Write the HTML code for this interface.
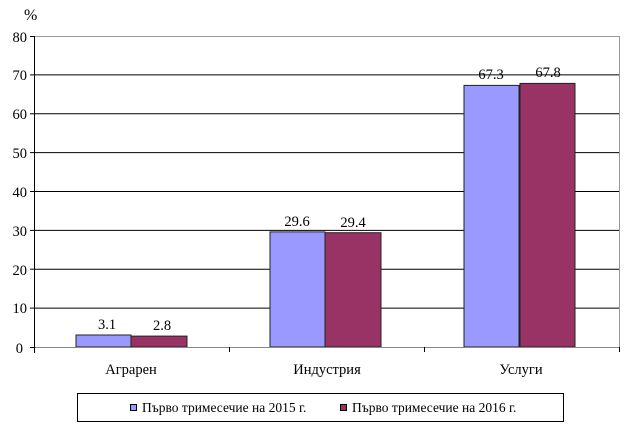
<!DOCTYPE html>
<html><head><meta charset="utf-8"><style>
html,body{margin:0;padding:0;background:#fff;}
svg text{font-family:"Liberation Serif",serif;fill:#000;}
</style></head><body>
<svg width="630" height="429" xmlns="http://www.w3.org/2000/svg">
<rect width="630" height="429" fill="#fff"/>
<g stroke="#000" stroke-width="1">
<line x1="34" y1="74.9" x2="619" y2="74.9"/>
<line x1="34" y1="113.8" x2="619" y2="113.8"/>
<line x1="34" y1="152.6" x2="619" y2="152.6"/>
<line x1="34" y1="191.5" x2="619" y2="191.5"/>
<line x1="34" y1="230.4" x2="619" y2="230.4"/>
<line x1="34" y1="269.2" x2="619" y2="269.2"/>
<line x1="34" y1="308.1" x2="619" y2="308.1"/>
</g>
<line x1="34" y1="36.5" x2="619" y2="36.5" stroke="#999"/>
<line x1="619.5" y1="36" x2="619.5" y2="347" stroke="#999"/>
<g stroke="#222" stroke-width="1">
<rect x="76" y="335" width="55" height="12" fill="#9999ff"/>
<rect x="131" y="336.1" width="56" height="10.9" fill="#993366"/>
<rect x="270" y="231.9" width="55" height="115.1" fill="#9999ff"/>
<rect x="325" y="232.7" width="56" height="114.3" fill="#993366"/>
<rect x="464" y="85.4" width="55" height="261.6" fill="#9999ff"/>
<rect x="520" y="83.4" width="55" height="263.6" fill="#993366"/>
</g>
<line x1="34" y1="347.5" x2="619" y2="347.5" stroke="#888"/>
<line x1="34.5" y1="36" x2="34.5" y2="353" stroke="#000"/>
<g stroke="#000">
<line x1="30" y1="36.5" x2="34" y2="36.5"/><line x1="30" y1="74.9" x2="34" y2="74.9"/>
<line x1="30" y1="113.8" x2="34" y2="113.8"/><line x1="30" y1="152.6" x2="34" y2="152.6"/>
<line x1="30" y1="191.5" x2="34" y2="191.5"/><line x1="30" y1="230.4" x2="34" y2="230.4"/>
<line x1="30" y1="269.2" x2="34" y2="269.2"/><line x1="30" y1="308.1" x2="34" y2="308.1"/>
<line x1="30" y1="347.5" x2="34" y2="347.5"/>
<line x1="229.5" y1="347" x2="229.5" y2="352"/><line x1="424.5" y1="347" x2="424.5" y2="352"/><line x1="619.5" y1="347" x2="619.5" y2="352"/>
</g>
<g font-size="14.5" text-anchor="end">
<text x="27" y="42">80</text><text x="27" y="80">70</text><text x="27" y="119">60</text>
<text x="27" y="158">50</text><text x="27" y="197">40</text><text x="27" y="236">30</text>
<text x="27" y="275">20</text><text x="27" y="313">10</text><text x="23" y="353">0</text>
</g>
<text x="24" y="20" font-size="16">%</text>
<g font-size="14.5" text-anchor="middle">
<text x="107" y="329">3.1</text><text x="162" y="330">2.8</text>
<text x="297" y="226">29.6</text><text x="353" y="227">29.4</text>
<text x="491" y="79">67.3</text><text x="548" y="77">67.8</text>
<text x="131" y="374">Аграрен</text><text x="327" y="374">Индустрия</text><text x="521" y="374">Услуги</text>
</g>
<rect x="77.5" y="393.5" width="486" height="28" fill="none" stroke="#000"/>
<rect x="130.5" y="404.5" width="6" height="6" fill="#9999ff" stroke="#000"/>
<text x="142" y="412" font-size="13.5">Първо тримесечие на 2015 г.</text>
<rect x="340.5" y="404.5" width="6" height="6" fill="#993366" stroke="#000"/>
<text x="352" y="412" font-size="13.5">Първо тримесечие на 2016 г.</text>
</svg>
</body></html>
